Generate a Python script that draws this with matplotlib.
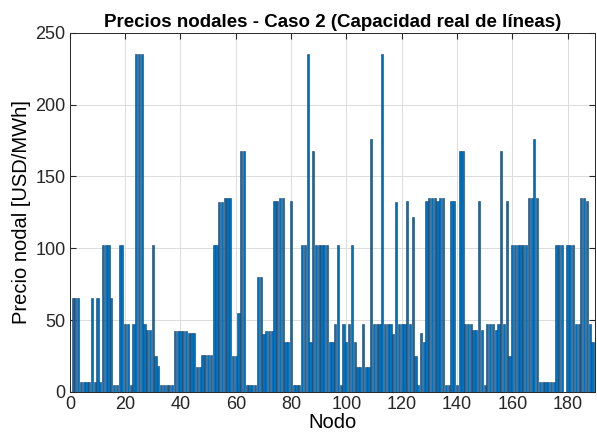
import matplotlib.pyplot as plt
import numpy as np

# (precio, cantidad de nodos consecutivos)
SEGMENTS = [
    (65, 3), (7, 4), (65, 1), (7, 1), (65, 1), (7, 1), (102, 3), (65, 1),
    (5, 2), (102, 2), (47, 2), (5, 1), (47, 1), (235, 3), (47, 1), (43, 2),
    (102, 1), (25, 1), (18, 1), (5, 5), (42.5, 5), (41, 3), (17, 2), (25.5, 4),
    (102, 2), (132, 2), (135, 3), (25, 2), (55, 1), (168, 2), (5, 4), (80, 2),
    (40, 1), (42.5, 3), (133, 2), (135, 2), (35, 2), (133, 1), (5, 3), (102, 2),
    (235, 1), (35, 1), (168, 1), (102, 5), (35, 2), (47, 1), (102, 1), (5, 1),
    (47, 1), (35, 1), (47, 1), (102, 1), (35, 1), (17, 2), (47, 1), (17, 2),
    (176, 1), (47, 3), (235, 1), (47, 3), (40, 1), (132, 1), (47, 3), (133, 1),
    (47, 1), (122, 1), (25, 1), (5, 1), (41, 1), (35, 1), (133, 1), (135, 3),
    (133, 1), (135, 2), (5, 2), (133, 2), (5, 1), (168, 2), (47, 3), (43, 2),
    (133, 1), (43, 1), (5, 1), (47, 3), (43, 1), (47, 1), (168, 1), (47, 1),
    (133, 1), (25, 1), (102, 6), (135, 2), (176, 1), (135, 1), (7, 6),
    (102, 3), (0, 1), (102, 3), (47, 2), (135, 2), (133, 1), (47, 1), (35, 1),
]

nodes_price = np.concatenate([[v] * n for v, n in SEGMENTS])
nodes = np.arange(1, len(nodes_price) + 1)

XTICKS = list(range(0, 181, 20))
YTICKS = list(range(0, 251, 50))

plt.rcParams["font.family"] = ["Liberation Sans", "DejaVu Sans"]

fig = plt.figure(figsize=(5.97, 4.32), dpi=100)
ax = fig.add_axes([0.117, 0.093, 0.88, 0.831])

ax.bar(nodes, nodes_price, width=0.8, color="#0072BD",
       edgecolor="#1a3f66", linewidth=0.4, zorder=3)

ax.set_xlim(0, 190)
ax.set_ylim(0, 250)
ax.set_xticks(XTICKS)
ax.set_yticks(YTICKS)
ax.tick_params(direction="in", labelsize=13, length=4, top=True, right=True,
               colors="#262626", pad=3)
ax.grid(True, color="#dcdcdc", linewidth=0.7, zorder=0)
for s in ax.spines.values():
    s.set_color("#262626")
    s.set_linewidth(0.7)

ax.set_xlabel("Nodo", fontsize=14.5, labelpad=0)
ax.set_ylabel("Precio nodal [USD/MWh]", fontsize=14.5, labelpad=3)
ax.set_title("Precios nodales - Caso 2 (Capacidad real de líneas)",
             fontsize=13.5, fontweight="bold", pad=4)

fig.savefig("out.png", dpi=100)
